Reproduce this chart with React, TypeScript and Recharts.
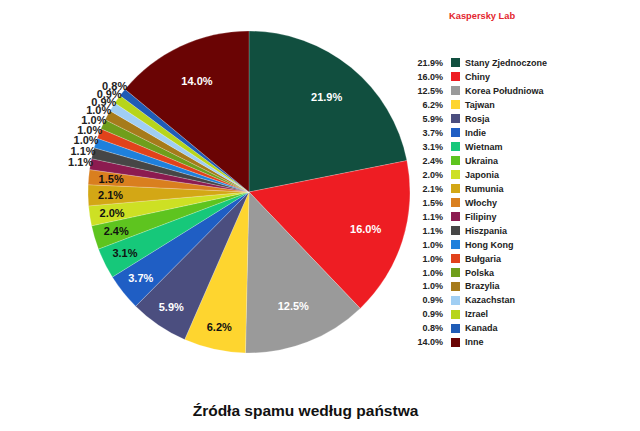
import { PieChart, Pie, Cell } from 'recharts'

const countries = [
  'Stany Zjednoczone', 'Chiny', 'Korea Południowa', 'Tajwan', 'Rosja', 'Indie', 'Wietnam',
  'Ukraina', 'Japonia', 'Rumunia', 'Włochy', 'Filipiny', 'Hiszpania', 'Hong Kong',
  'Bułgaria', 'Polska', 'Brazylia', 'Kazachstan', 'Izrael', 'Kanada', 'Inne',
]
const shares = [
  21.9, 16.0, 12.5, 6.2, 5.9, 3.7, 3.1, 2.4, 2.0, 2.1, 1.5, 1.1, 1.1, 1.0, 1.0, 1.0, 1.0,
  0.9, 0.9, 0.8, 14.0,
]

const COLORS = [
  '#114f3f', '#ee1d23', '#9a9a9a', '#fed52f', '#4b4e7f', '#1f5ec4', '#16c87a',
  '#5ec41f', '#cde024', '#d3a715', '#d97f1f', '#8c1b50', '#464646', '#1e80dc',
  '#e1421b', '#6f9e1b', '#a67b1b', '#a0cef3', '#b7d51b', '#1f5cb6', '#6a0404',
]
const LABEL_FILLS = [
  '#fff', '#fff', '#fff', '#111', '#fff', '#fff', '#111', '#111', '#111', '#111', '#111',
  '#111', '#111', '#111', '#111', '#111', '#111', '#111', '#111', '#111', '#fff',
]

const data = countries.map((name, i) => ({ name, value: shares[i] }))

const RAD = Math.PI / 180
const FONT = 'Arial, "Liberation Sans", sans-serif'

const renderLabel = (props: any) => {
  const { cx, cy, midAngle, outerRadius, value, index } = props
  let r = outerRadius * 0.86
  if (value > 10) r = outerRadius * 0.76
  if (value <= 1.1) r = outerRadius + 10
  const x = cx + r * Math.cos(-midAngle * RAD)
  const y = cy + r * Math.sin(-midAngle * RAD)
  return (
    <text
      x={x}
      y={y}
      fill={value <= 1.1 ? '#222' : LABEL_FILLS[index]}
      textAnchor="middle"
      dominantBaseline="central"
      fontFamily={FONT}
      fontWeight="bold"
      fontSize={11}
    >
      {value.toFixed(1)}%
    </text>
  )
}

export default function App() {
  return (
    <div style={{ position: 'absolute', left: 0, top: 0, width: 640, height: 431, background: '#fff' }}>
      <PieChart width={640} height={431} margin={{ top: 0, right: 0, bottom: 0, left: 0 }}>
        <Pie
          data={data}
          dataKey="value"
          nameKey="name"
          cx={249}
          cy={192}
          outerRadius={161}
          startAngle={90}
          endAngle={-270}
          stroke="rgba(255,255,255,0.35)"
          strokeWidth={0.6}
          label={renderLabel}
          labelLine={false}
          isAnimationActive={false}
        >
          {data.map((d, i) => (
            <Cell key={d.name} fill={COLORS[i]} />
          ))}
        </Pie>
      </PieChart>
      <div
        style={{
          position: 'absolute', left: 400, top: 56, fontFamily: FONT, fontWeight: 'bold',
          fontSize: 9, color: '#222',
        }}
      >
        {data.map((d, i) => (
          <div key={d.name} style={{ display: 'flex', alignItems: 'center', height: 13.97 }}>
            <span style={{ width: 43, textAlign: 'right' }}>{d.value.toFixed(1)}%</span>
            <span style={{ width: 9, height: 9, background: COLORS[i], marginLeft: 8, marginRight: 5 }} />
            <span>{d.name}</span>
          </div>
        ))}
      </div>
      <div
        style={{
          position: 'absolute', left: 449, top: 11, fontFamily: FONT, fontWeight: 'bold',
          fontSize: 9.3, color: '#e3262e',
        }}
      >
        Kaspersky Lab
      </div>
      <div
        style={{
          position: 'absolute', left: 0, width: 611, top: 402, textAlign: 'center',
          fontFamily: FONT, fontWeight: 'bold', fontSize: 15.5, color: '#111',
        }}
      >
        Źródła spamu według państwa
      </div>
    </div>
  )
}
